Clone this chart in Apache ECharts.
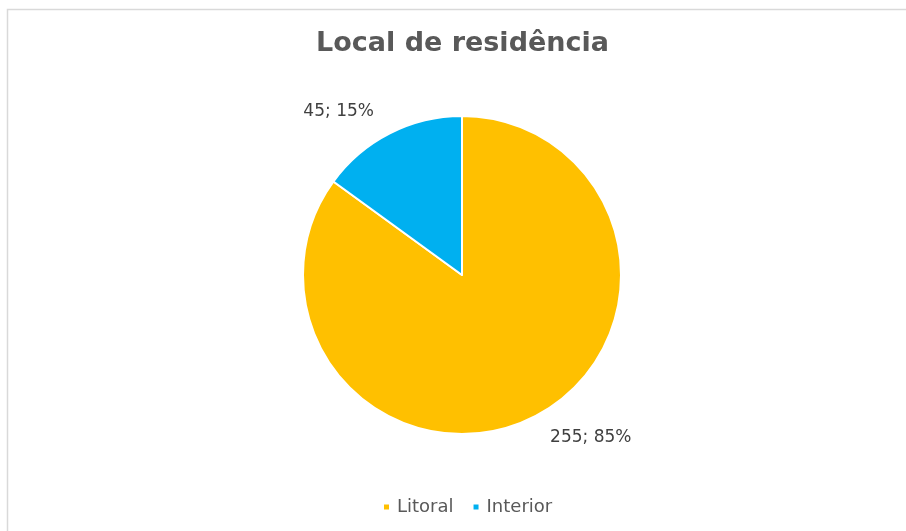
<!DOCTYPE html>
<html>
<head>
<meta charset="utf-8">
<script src="https://cdn.jsdelivr.net/npm/echarts@6/dist/echarts.min.js"></script>
<style>
  html, body { margin: 0; padding: 0; background: #fff; }
  #chart { width: 906px; height: 531px; }
</style>
</head>
<body>
<div id="chart"></div>
<script>
  var categories = ['Litoral', 'Interior'];
  var values = [255, 45];
  var colors = ['#FFC000', '#00B0F0'];

  var chart = echarts.init(document.getElementById('chart'));

  var pieData = categories.map(function (name, i) {
    return { name: name, value: values[i], itemStyle: { color: colors[i] } };
  });

  chart.setOption({
    animation: false,
    textStyle: { fontFamily: 'DejaVu Sans' },
    graphic: [
      // moldura do gráfico (só aparecem os lados de cima e da esquerda)
      {
        type: 'rect',
        shape: { x: 7.5, y: 9.5, width: 1000, height: 1000 },
        style: { fill: 'none', stroke: '#d9d9d9', lineWidth: 1.5 },
        silent: true
      }
    ],
    title: {
      text: 'Local de residência',
      left: 311,
      top: 25,
      textStyle: { fontSize: 27, fontWeight: 'bold', color: '#595959', fontFamily: 'DejaVu Sans' }
    },
    legend: {
      data: categories,
      bottom: 10,
      left: 377,
      icon: 'rect',
      itemWidth: 7,
      itemHeight: 7,
      itemGap: 18,
      textStyle: { fontSize: 18, color: '#595959', padding: [0, 0, 0, 2] }
    },
    series: [
      {
        type: 'pie',
        center: [462, 275],
        radius: 159,
        startAngle: 90,
        clockwise: true,
        data: pieData,
        itemStyle: { borderColor: '#fff', borderWidth: 2 },
        label: {
          show: true,
          position: 'outside',
          formatter: function (p) { return p.value + '; ' + Math.round(p.percent) + '%'; },
          fontSize: 17,
          color: '#404040'
        },
        labelLine: { show: false, length: 24, length2: 0 }
      }
    ]
  });
</script>
</body>
</html>
